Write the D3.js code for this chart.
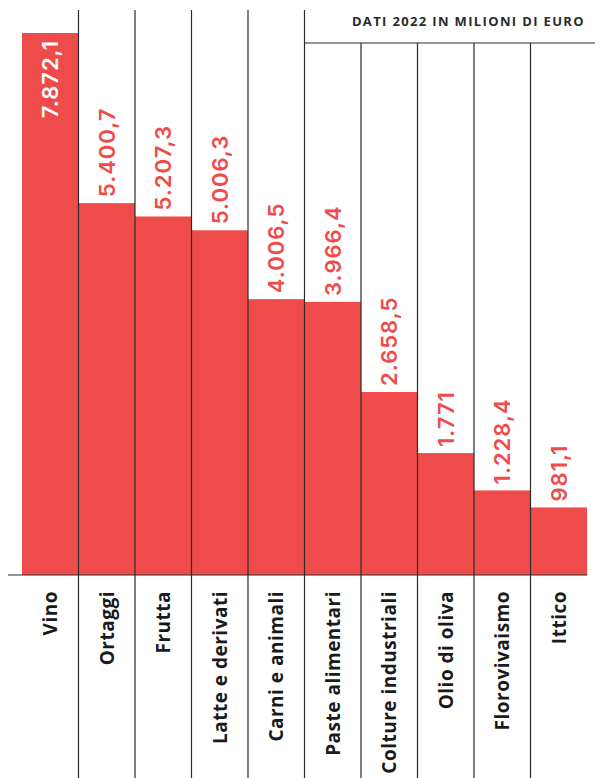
<!DOCTYPE html>
<html>
<head>
<meta charset="utf-8">
<script src="https://cdn.jsdelivr.net/npm/d3@7"></script>
<style>
  html, body { margin: 0; padding: 0; background: #fff; }
  svg { display: block; }
</style>
</head>
<body>
<div id="chart"></div>
<script>
// Data (valori 2022, milioni di euro)
const categories = ['Vino', 'Ortaggi', 'Frutta', 'Latte e derivati', 'Carni e animali',
  'Paste alimentari', 'Colture industriali', 'Olio di oliva', 'Florovivaismo', 'Ittico'];
const values = [7872.1, 5400.7, 5207.3, 5006.3, 4006.5, 3966.4, 2658.5, 1771, 1228.4, 981.1];
const headerText = 'DATI 2022 IN MILIONI DI EURO';

const width = 595, height = 778;
const baseY = 575;
const red = '#ef4b4b';
const ink = '#2b2b2b';

const itLocale = d3.formatLocale({ decimal: ',', thousands: '.', grouping: [3], currency: ['€', ''] });
const fmt = itLocale.format(',.1~f');

const svg = d3.select('#chart').append('svg')
  .attr('width', width)
  .attr('height', height);

svg.append('rect').attr('width', width).attr('height', height).attr('fill', '#fff');

const x = d3.scaleBand().domain(categories).range([22, 587]).padding(0);
const y = d3.scaleLinear().domain([0, d3.max(values)]).range([baseY, 33]);

const data = categories.map((c, i) => ({ cat: c, val: values[i] }));

// Bars
svg.append('g').selectAll('rect')
  .data(data)
  .enter().append('rect')
  .attr('x', d => x(d.cat))
  .attr('y', d => y(d.val))
  .attr('width', x.bandwidth())
  .attr('height', d => baseY - y(d.val))
  .attr('fill', red);

// Column separators (drawn over the bars)
const splitX = x(categories[5]);
svg.append('g').selectAll('line')
  .data(categories.slice(1))
  .enter().append('line')
  .attr('x1', d => x(d)).attr('x2', d => x(d))
  .attr('y1', d => x(d) <= splitX + 1 ? 10 : 43)
  .attr('y2', height)
  .attr('stroke', ink)
  .attr('stroke-width', 1.2);

// Header rule + note
svg.append('line')
  .attr('x1', splitX).attr('x2', width)
  .attr('y1', 43).attr('y2', 43)
  .attr('stroke', ink).attr('stroke-width', 1.2);

svg.append('text')
  .attr('x', 585).attr('y', 26)
  .attr('text-anchor', 'end')
  .attr('font-family', '"Open Sans", sans-serif')
  .attr('font-weight', 700)
  .attr('font-size', 13)
  .attr('letter-spacing', 1.35)
  .attr('fill', ink)
  .text(headerText);

// Baseline
svg.append('line')
  .attr('x1', 8).attr('x2', 587)
  .attr('y1', baseY).attr('y2', baseY)
  .attr('stroke', ink).attr('stroke-width', 1.2);

// Value labels (rotated)
svg.append('g').selectAll('text')
  .data(data)
  .enter().append('text')
  .attr('transform', (d, i) => {
    const cx = x(d.cat) + x.bandwidth() / 2;
    const ty = i === 0 ? y(d.val) + 7 : y(d.val) - 6;
    return `translate(${cx},${ty}) rotate(-90)`;
  })
  .attr('dy', '0.36em')
  .attr('text-anchor', (d, i) => i === 0 ? 'end' : 'start')
  .attr('font-family', 'Inter, sans-serif')
  .attr('font-weight', 600)
  .attr('font-size', 22)
  .attr('letter-spacing', 1)
  .attr('fill', (d, i) => i === 0 ? '#fff' : red)
  .text(d => fmt(d.val));

// Category labels (rotated, below baseline)
svg.append('g').selectAll('text')
  .data(categories)
  .enter().append('text')
  .attr('transform', d => `translate(${x(d) + x.bandwidth() / 2},${baseY + 16}) rotate(-90)`)
  .attr('dy', '0.36em')
  .attr('text-anchor', 'end')
  .attr('font-family', '"Open Sans", sans-serif')
  .attr('font-weight', 700)
  .attr('font-size', 19)
  .attr('letter-spacing', 0.5)
  .attr('fill', '#1a1a1a')
  .text(d => d);
</script>
</body>
</html>
